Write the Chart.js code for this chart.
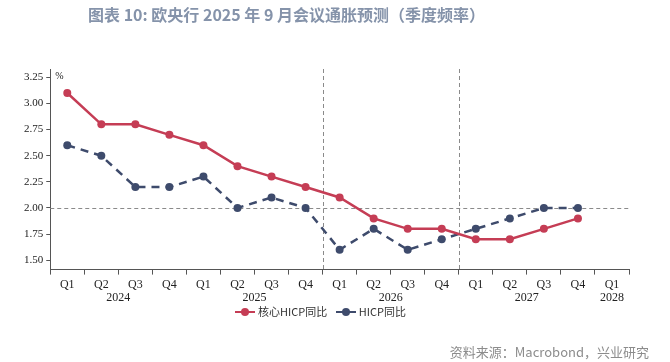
<!DOCTYPE html>
<html>
<head>
<meta charset="utf-8">
<script src="https://cdn.jsdelivr.net/npm/chart.js@4"></script>
<style>
  body { margin: 0; background: #fff; }
  #wrap { position: relative; width: 670px; height: 362px; overflow: hidden; }
  #chart { position: absolute; left: 0; top: 0; }
  .title { position: absolute; left: 88px; top: 2px; font: bold 16px "Noto Sans CJK SC", sans-serif; color: #8593aa; white-space: nowrap; }
  .source { position: absolute; right: 21px; top: 342px; font: 13px "Noto Sans CJK SC", sans-serif; color: #8c8c8c; white-space: nowrap; }
  .legend { position: absolute; left: 235px; top: 303px; font: 11px "Noto Sans CJK SC", sans-serif; color: #333; white-space: nowrap; }
  .legend span.item { display: inline-block; margin-right: 6px; }
  .legend .mk { display: inline-block; position: relative; width: 20px; height: 10px; vertical-align: -1px; margin-right: 3px; }
  .legend .mk i { position: absolute; left: 0; top: 4px; width: 20px; height: 2px; }
  .legend .mk b { position: absolute; left: 6px; top: 1px; width: 8px; height: 8px; border-radius: 50%; }
</style>
</head>
<body>
<div id="wrap">
  <canvas id="chart" width="670" height="362"></canvas>
  <div class="title">图表 10: 欧央行 2025 年 9 月会议通胀预测（季度频率）</div>
  <div class="legend">
    <span class="item"><span class="mk"><i style="background:#c53d55"></i><b style="background:#c53d55"></b></span>核心HICP同比</span>
    <span class="item"><span class="mk"><i style="background:#3e4b6c"></i><b style="background:#3e4b6c"></b></span>HICP同比</span>
  </div>
  <div class="source">资料来源：Macrobond，兴业研究</div>
</div>
<script>
// quarters 2024Q1 - 2028Q1
const quarters = ['Q1','Q2','Q3','Q4','Q1','Q2','Q3','Q4','Q1','Q2','Q3','Q4','Q1','Q2','Q3','Q4','Q1'];
const years = ['2024','2025','2026','2027','2028'];
const yearStart = [0, 4, 8, 12, 16];
const yearEnd = [3, 7, 11, 15, 16];

const coreHicp = [3.1, 2.8, 2.8, 2.7, 2.6, 2.4, 2.3, 2.2, 2.1, 1.9, 1.8, 1.8, 1.7, 1.7, 1.8, 1.9, null];
const hicp = [2.6, 2.5, 2.2, 2.2, 2.3, 2.0, 2.1, 2.0, 1.6, 1.8, 1.6, 1.7, 1.8, 1.9, 2.0, 2.0, null];

const yTicks = [1.5, 1.75, 2.0, 2.25, 2.5, 2.75, 3.0, 3.25];
const targetLine = 2.0;
const splitAfter = [7, 11]; // dashed vertical lines after 2025Q4 and 2026Q4

const red = '#c53d55';
const navy = '#3e4b6c';

// reference lines, year labels and % sign
const extras = {
  id: 'extras',
  beforeDatasetsDraw(chart) {
    const ctx = chart.ctx;
    const x = chart.scales.x, y = chart.scales.y;
    const area = chart.chartArea;
    ctx.save();
    ctx.strokeStyle = '#8a8a8a';
    ctx.lineWidth = 1;
    ctx.setLineDash([4, 3]);
    const yy = Math.round(y.getPixelForValue(targetLine)) + 0.5;
    ctx.beginPath();
    ctx.moveTo(area.left, yy);
    ctx.lineTo(area.right, yy);
    ctx.stroke();
    splitAfter.forEach(i => {
      const xx = Math.round((x.getPixelForValue(i) + x.getPixelForValue(i + 1)) / 2) + 0.5;
      ctx.beginPath();
      ctx.moveTo(xx, area.top);
      ctx.lineTo(xx, area.bottom);
      ctx.stroke();
    });
    ctx.restore();
  },
  afterDraw(chart) {
    const ctx = chart.ctx;
    const x = chart.scales.x;
    ctx.save();
    ctx.fillStyle = '#222';
    ctx.font = '12px "Liberation Serif"';
    ctx.textAlign = 'center';
    ctx.textBaseline = 'middle';
    years.forEach((yr, i) => {
      const cx = (x.getPixelForValue(yearStart[i]) + x.getPixelForValue(yearEnd[i])) / 2;
      ctx.fillText(yr, cx, x.top + 28);
    });
    ctx.font = '10px "Liberation Serif"';
    ctx.textAlign = 'left';
    ctx.fillText('%', chart.chartArea.left + 5, chart.chartArea.top + 7);
    ctx.restore();
  }
};

new Chart(document.getElementById('chart'), {
  type: 'line',
  data: {
    labels: quarters,
    datasets: [
      {
        label: '核心HICP同比',
        data: coreHicp,
        borderColor: red,
        backgroundColor: red,
        borderWidth: 2.5,
        pointRadius: 4,
        pointBorderWidth: 0,
        pointHoverRadius: 4,
        tension: 0
      },
      {
        label: 'HICP同比',
        data: hicp,
        borderColor: navy,
        backgroundColor: navy,
        borderWidth: 2.5,
        borderDash: [8, 6],
        pointRadius: 4,
        pointBorderWidth: 0,
        pointHoverRadius: 4,
        tension: 0
      }
    ]
  },
  options: {
    responsive: false,
    animation: false,
    layout: { padding: { top: 69, left: 21, right: 41, bottom: 53 } },
    plugins: {
      legend: { display: false },
      tooltip: { enabled: false }
    },
    scales: {
      x: {
        offset: true,
        grid: { display: true, drawOnChartArea: false, tickLength: 5, color: '#555', offset: true },
        border: { color: '#555', width: 1 },
        ticks: { color: '#222', font: { family: 'Liberation Serif', size: 12 }, padding: 3, maxRotation: 0, autoSkip: false },
        afterFit(scale) { scale.height += 14; }
      },
      y: {
        min: 1.41,
        max: 3.33,
        afterBuildTicks(scale) { scale.ticks = yTicks.map(v => ({ value: v })); },
        grid: { display: true, drawOnChartArea: false, tickLength: 4, color: '#555' },
        border: { color: '#555', width: 1 },
        ticks: {
          color: '#222',
          font: { family: 'Liberation Serif', size: 11 },
          padding: 3,
          callback: v => Number(v).toFixed(2)
        }
      }
    }
  },
  plugins: [extras]
});
</script>
</body>
</html>
